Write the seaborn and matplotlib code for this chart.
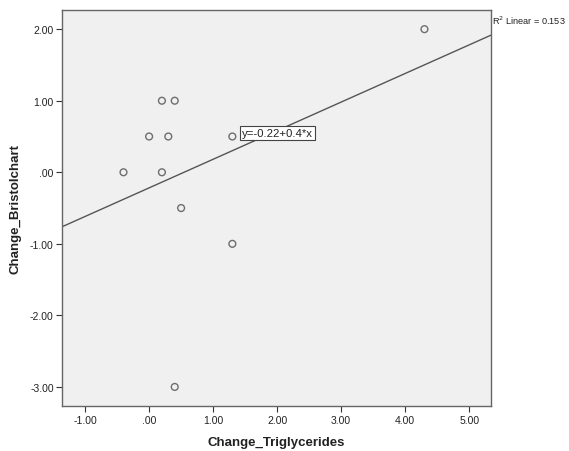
import matplotlib
matplotlib.use("Agg")
import matplotlib.pyplot as plt
import seaborn as sns
import pandas as pd

# Change scores per participant
change_triglycerides = [4.3, 0.2, 0.4, 0.0, 0.3, 1.3, -0.4, 0.2, 0.5, 1.3, 0.4]
change_bristolchart = [2.0, 1.0, 1.0, 0.5, 0.5, 0.5, 0.0, 0.0, -0.5, -1.0, -3.0]

x_ticks = [-1, 0, 1, 2, 3, 4, 5]
x_tick_labels = ["-1.00", ".00", "1.00", "2.00", "3.00", "4.00", "5.00"]
y_ticks = [-3, -2, -1, 0, 1, 2]
y_tick_labels = ["-3.00", "-2.00", "-1.00", ".00", "1.00", "2.00"]

fit_label = "y=-0.22+0.4*x"
r2_label = "R$^2$ Linear = 0.153"

df = pd.DataFrame({"Change_Triglycerides": change_triglycerides,
                   "Change_Bristolchart": change_bristolchart})

sns.set_style("white")
plt.rcParams["font.family"] = ["Liberation Sans", "DejaVu Sans"]

fig = plt.figure(figsize=(5.69, 4.52), dpi=100)
ax = fig.add_axes([0.109, 0.099, 0.754, 0.877])
ax.set_facecolor("#f0f0f0")

ax.set_xlim(-1.36, 5.34)
ax.set_ylim(-3.27, 2.27)

sns.regplot(data=df, x="Change_Triglycerides", y="Change_Bristolchart", ax=ax,
            ci=None, truncate=False,
            scatter_kws=dict(s=24, facecolors="none", edgecolors="#4d4d4d",
                             linewidths=1.0),
            line_kws=dict(color="#555555", lw=1.0))

ax.set_xlim(-1.36, 5.34)
ax.set_ylim(-3.27, 2.27)

ax.set_xticks(x_ticks)
ax.set_xticklabels(x_tick_labels)
ax.set_yticks(y_ticks)
ax.set_yticklabels(y_tick_labels)
ax.tick_params(axis="both", direction="out", length=4, width=0.8,
               color="#333333", labelsize=7.5, labelcolor="#222222",
               bottom=True, left=True, pad=2)

for side in ax.spines.values():
    side.set_color("#666666")
    side.set_linewidth(1.0)

ax.set_xlabel("Change_Triglycerides", fontsize=9.5, fontweight="bold",
              color="#222222", labelpad=8)
ax.set_ylabel("Change_Bristolchart", fontsize=9.5, fontweight="bold",
              color="#222222", labelpad=6)

ax.text(1.45, 0.55, fit_label, fontsize=8.2, color="#222222",
        va="center", ha="left",
        bbox=dict(boxstyle="square,pad=0.2", facecolor="white",
                  edgecolor="#444444", linewidth=0.8))

fig.text(0.864, 0.955, r2_label, fontsize=6.6, color="#222222",
         ha="left", va="center")

fig.savefig("out.png", dpi=100, facecolor="white")
